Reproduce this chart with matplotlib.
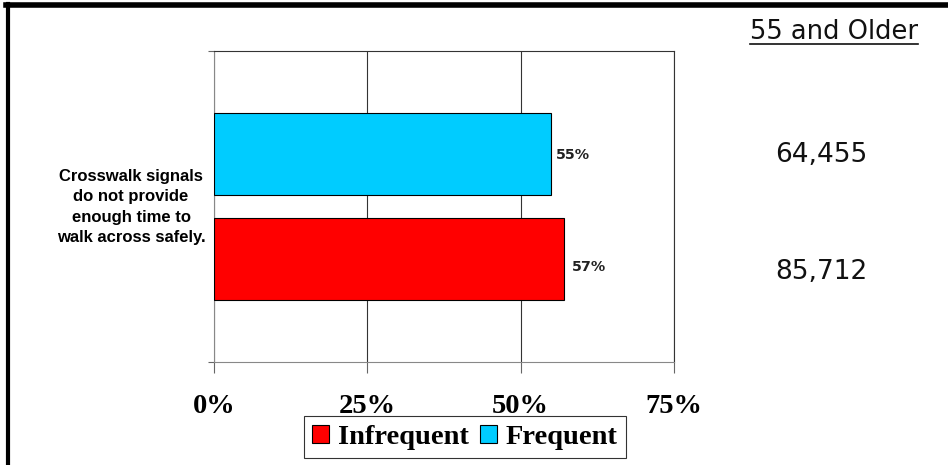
import matplotlib.pyplot as plt
from matplotlib.lines import Line2D
import numpy as np

category = 'Crosswalk signals\ndo not provide\nenough time to\nwalk across safely.'
series = ['Infrequent', 'Frequent']
values = [57, 55]            # percent
counts = ['85,712', '64,455']
colors = ['#FF0000', '#00CCFF']
group_title = '55 and Older'
xticks = [0, 25, 50, 75]

fig = plt.figure(figsize=(9.48, 4.65), dpi=100)
ax = fig.add_axes([0.2257, 0.2215, 0.4852, 0.6688])

offsets = [-0.17, 0.17]
bar_h = 0.264
for name, v, c, off in zip(series, values, colors, offsets):
    ax.barh(off, v, height=bar_h, color=c, edgecolor='black', linewidth=0.8, label=name, zorder=3)

# value labels
ax.text(values[1] + 0.8, offsets[1] - 0.005, f'{values[1]}%', fontsize=10.3, fontweight='bold',
        va='center', ha='left', color='#222222')
ax.text(values[0] + 1.4, offsets[0] - 0.025, f'{values[0]}%', fontsize=10.3, fontweight='bold',
        va='center', ha='left', color='#222222')

ax.set_xlim(0, 75)
ax.set_ylim(-0.5, 0.5)
ax.set_xticks(xticks)
ax.set_xticklabels([f'{t}%' for t in xticks], fontfamily='Liberation Serif',
                   fontweight='bold', fontsize=20.5)
ax.tick_params(axis='x', length=8, width=0.8, color='#666666', pad=15)
ax.set_yticks([-0.5, 0.5])
ax.set_yticklabels([])
ax.tick_params(axis='y', length=4, width=0.8, color='#666666')
ax.grid(axis='x', color='#333333', linewidth=0.8, zorder=0)
for side in ['top', 'right']:
    ax.spines[side].set_color('#333333')
for side in ['left', 'bottom']:
    ax.spines[side].set_color('#888888')

# category label
fig.text(131 / 948, 1 - 207 / 465, category, fontfamily='Liberation Sans', fontweight='bold',
         fontsize=12, ha='center', va='center', linespacing=1.45)

# right-side counts
fig.text(834 / 948, 1 - 32 / 465, group_title, fontsize=18.5, ha='center', va='center', color='#111111')
fig.add_artist(Line2D([750 / 948, 918 / 948], [1 - 44 / 465, 1 - 44 / 465], color='#111111', linewidth=1.2))
count_y = [272, 155]
for cnt, yp in zip(counts, count_y):
    fig.text(821 / 948, 1 - yp / 465, cnt, fontsize=19, ha='center', va='center', color='#111111')

# outer frame (top and left)
fig.add_artist(Line2D([6 / 948, 1], [1 - 5.5 / 465, 1 - 5.5 / 465], color='black', linewidth=4))
fig.add_artist(Line2D([8 / 948, 8 / 948], [0, 1 - 4 / 465], color='black', linewidth=3))

leg = ax.legend(loc='center', bbox_to_anchor=(0.4905, 0.06), bbox_transform=fig.transFigure,
                ncol=2, frameon=True, fancybox=False, edgecolor='black',
                prop={'family': 'Liberation Serif', 'weight': 'bold', 'size': 20.5},
                handlelength=0.6, handleheight=0.6, handletextpad=0.3, columnspacing=0.4,
                borderpad=0.3, borderaxespad=0)
leg.get_frame().set_linewidth(0.8)

fig.savefig('out.png', dpi=100)
